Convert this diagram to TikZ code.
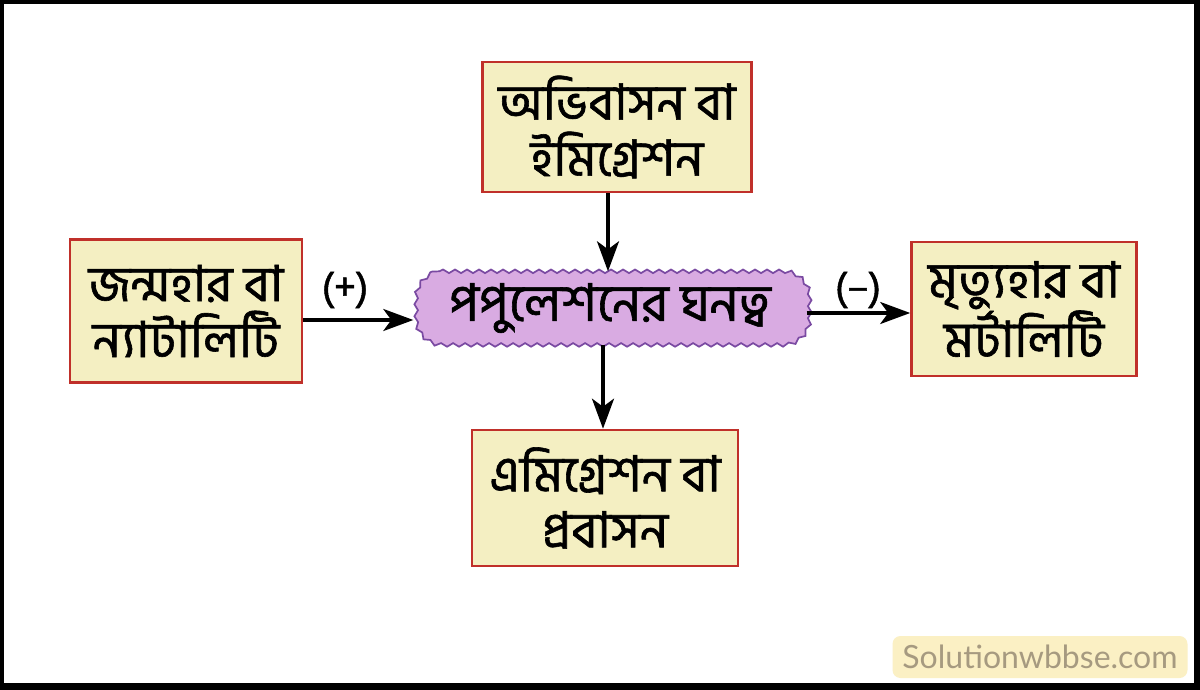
\documentclass[tikz,border=0pt]{standalone}
\usepackage{fontspec}
\newfontfamily\bn[Script=Bengali,FakeBold=1.2]{Hind Siliguri}
\newfontfamily\wm{Lato}
\usetikzlibrary{arrows.meta,decorations.pathmorphing,calc}
\pgfdeclarelayer{frame}
\pgfdeclarelayer{bg}
\pgfsetlayers{frame,bg,main}
\definecolor{boxfill}{HTML}{F4EFC2}
\definecolor{boxline}{HTML}{C0302A}
\definecolor{purfill}{HTML}{D9ABE2}
\definecolor{purline}{HTML}{7A4AA2}
\definecolor{wmfill}{HTML}{FBF0C4}
\definecolor{wmtext}{HTML}{A69A80}
\begin{document}
\begin{tikzpicture}[x=1pt,y=-1pt,
  boxnode/.style={draw=boxline,line width=2.6pt,fill=boxfill,align=center,
    font=\bn\fontsize{50}{56}\selectfont,inner sep=0pt},
  cnode/.style={align=center,
    font=\bn\fontsize{52}{56}\selectfont,inner sep=0pt,
    minimum width=393pt,minimum height=73pt},
  wavy/.style={draw=purline,line width=1.7pt,fill=purfill,
    decorate,decoration={snake,segment length=12pt,amplitude=1.8pt}},
  arr/.style={line width=3.4pt,-{Stealth[length=30pt,width=22pt,inset=8pt]}},
  lbl/.style={font=\bn\fontsize{40}{40}\selectfont}]
\begin{pgfonlayer}{frame}
\fill[black] (0,0) rectangle (1200,690);
\fill[white] (4,4) rectangle (1194,683);
\end{pgfonlayer}
\useasboundingbox (0,0) rectangle (1200,690);
\node[boxnode,minimum width=269pt,minimum height=130pt] (top) at (617,127) {অভিবাসন বা\\ইমিগ্রেশন};
\node[boxnode,minimum width=232pt,minimum height=143pt] (left) at (186,311) {জন্মহার বা\\ন্যাটালিটি};
\node[boxnode,minimum width=225pt,minimum height=134pt] (right) at (1024,309) {মৃত্যুহার বা\\মর্টালিটি};
\node[boxnode,minimum width=266pt,minimum height=136pt] (bottom) at (605,498) {এমিগ্রেশন বা\\প্রবাসন};
\node[cnode] (center) at (610,308) {পপুলেশনের ঘনত্ব};
\begin{pgfonlayer}{bg}
\path[wavy]
  ($(center.north west)+(26,0)$) -- ($(center.north east)+(-26,0)$)
  .. controls ($(center.north east)+(-12,0)$) and ($(center.north east)+(0,12)$) .. ($(center.north east)+(0,26)$)
  -- ($(center.south east)+(0,-26)$)
  .. controls ($(center.south east)+(0,-12)$) and ($(center.south east)+(-12,0)$) .. ($(center.south east)+(-26,0)$)
  -- ($(center.south west)+(26,0)$)
  .. controls ($(center.south west)+(12,0)$) and ($(center.south west)+(0,-12)$) .. ($(center.south west)+(0,-26)$)
  -- ($(center.north west)+(0,26)$)
  .. controls ($(center.north west)+(0,12)$) and ($(center.north west)+(12,0)$) .. ($(center.north west)+(26,0)$) -- cycle;
\end{pgfonlayer}
\draw[arr] ([xshift=-9pt]top.south) -- ([xshift=-2pt]center.north);
\draw[arr] ([xshift=-7pt]center.south) -- ([xshift=-2pt]bottom.north);
\draw[arr] ([yshift=-9pt]left.east) -- ([yshift=-12pt]center.west);
\draw[arr] ([yshift=-5pt]center.east) -- ([yshift=-4pt]right.west);
\node[lbl] (plus) at (345,290) {(+)};
\node[lbl] (minus) at (858,290) {(–)};
\node[fill=wmfill,rounded corners=8pt,minimum width=295pt,minimum height=42pt,
  text=wmtext,font=\wm\fontsize{32}{32}\selectfont] (wm) at (1040,657) {Solutionwbbse.com};
\end{tikzpicture}
\end{document}
